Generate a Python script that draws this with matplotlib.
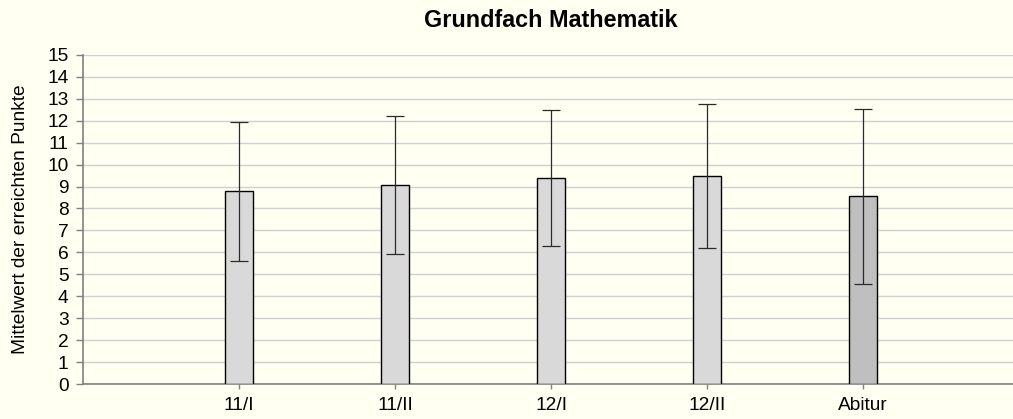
import numpy as np
import matplotlib.pyplot as plt

plt.rcParams['font.family'] = ['Liberation Sans', 'DejaVu Sans']

# Mittelwerte und Standardabweichungen
categories = ['11/I', '11/II', '12/I', '12/II', 'Abitur']
means = [8.8, 9.06, 9.4, 9.5, 8.55]
upper = [11.96, 12.22, 12.51, 12.77, 12.54]
lower = [5.62, 5.91, 6.29, 6.22, 4.55]
bar_colors = ['#d9d9d9', '#d9d9d9', '#d9d9d9', '#d9d9d9', '#bfbfbf']

bg = '#fffff2'

def main():
    fig = plt.figure(figsize=(10.13, 4.19), dpi=100, facecolor=bg)
    ax = fig.add_axes([0.082, 0.0835, 0.918, 0.7855], facecolor=bg)

    x = np.arange(len(categories))
    m = np.array(means)
    yerr = [m - np.array(lower), np.array(upper) - m]

    ax.bar(x, m, width=0.18, color=bar_colors, edgecolor='black', linewidth=1.0, zorder=3)
    ax.errorbar(x, m, yerr=yerr, fmt='none', ecolor='#2a2a2a', elinewidth=0.9,
                capsize=6.5, capthick=0.9, zorder=4)

    ax.set_xlim(-1.0, 4.96)
    ax.set_ylim(0, 15)
    ax.set_yticks(range(0, 16))
    ax.set_xticks(x)
    ax.set_xticklabels(categories)
    ax.yaxis.grid(True, color='#d0d0d0', linewidth=1.0, zorder=0)
    ax.set_axisbelow(True)

    for s in ['top', 'right']:
        ax.spines[s].set_visible(False)
    for s in ['left', 'bottom']:
        ax.spines[s].set_color('#808080')
        ax.spines[s].set_linewidth(1.2)
    ax.tick_params(axis='both', colors='#808080', labelcolor='black', labelsize=13.8,
                   width=1)
    ax.tick_params(axis='x', length=3.6, pad=5.5)
    ax.tick_params(axis='y', length=5, pad=5.5)

    fig.text(20.7 / 1013, 0.4757, 'Mittelwert der erreichten Punkte', rotation=90,
             ha='center', va='center', fontsize=13.8)
    fig.text(0.544, 0.952, 'Grundfach Mathematik', ha='center', va='center',
             fontsize=16.8, fontweight='bold')

    fig.savefig('out.png', dpi=100, facecolor=bg)

if __name__ == '__main__':
    main()
